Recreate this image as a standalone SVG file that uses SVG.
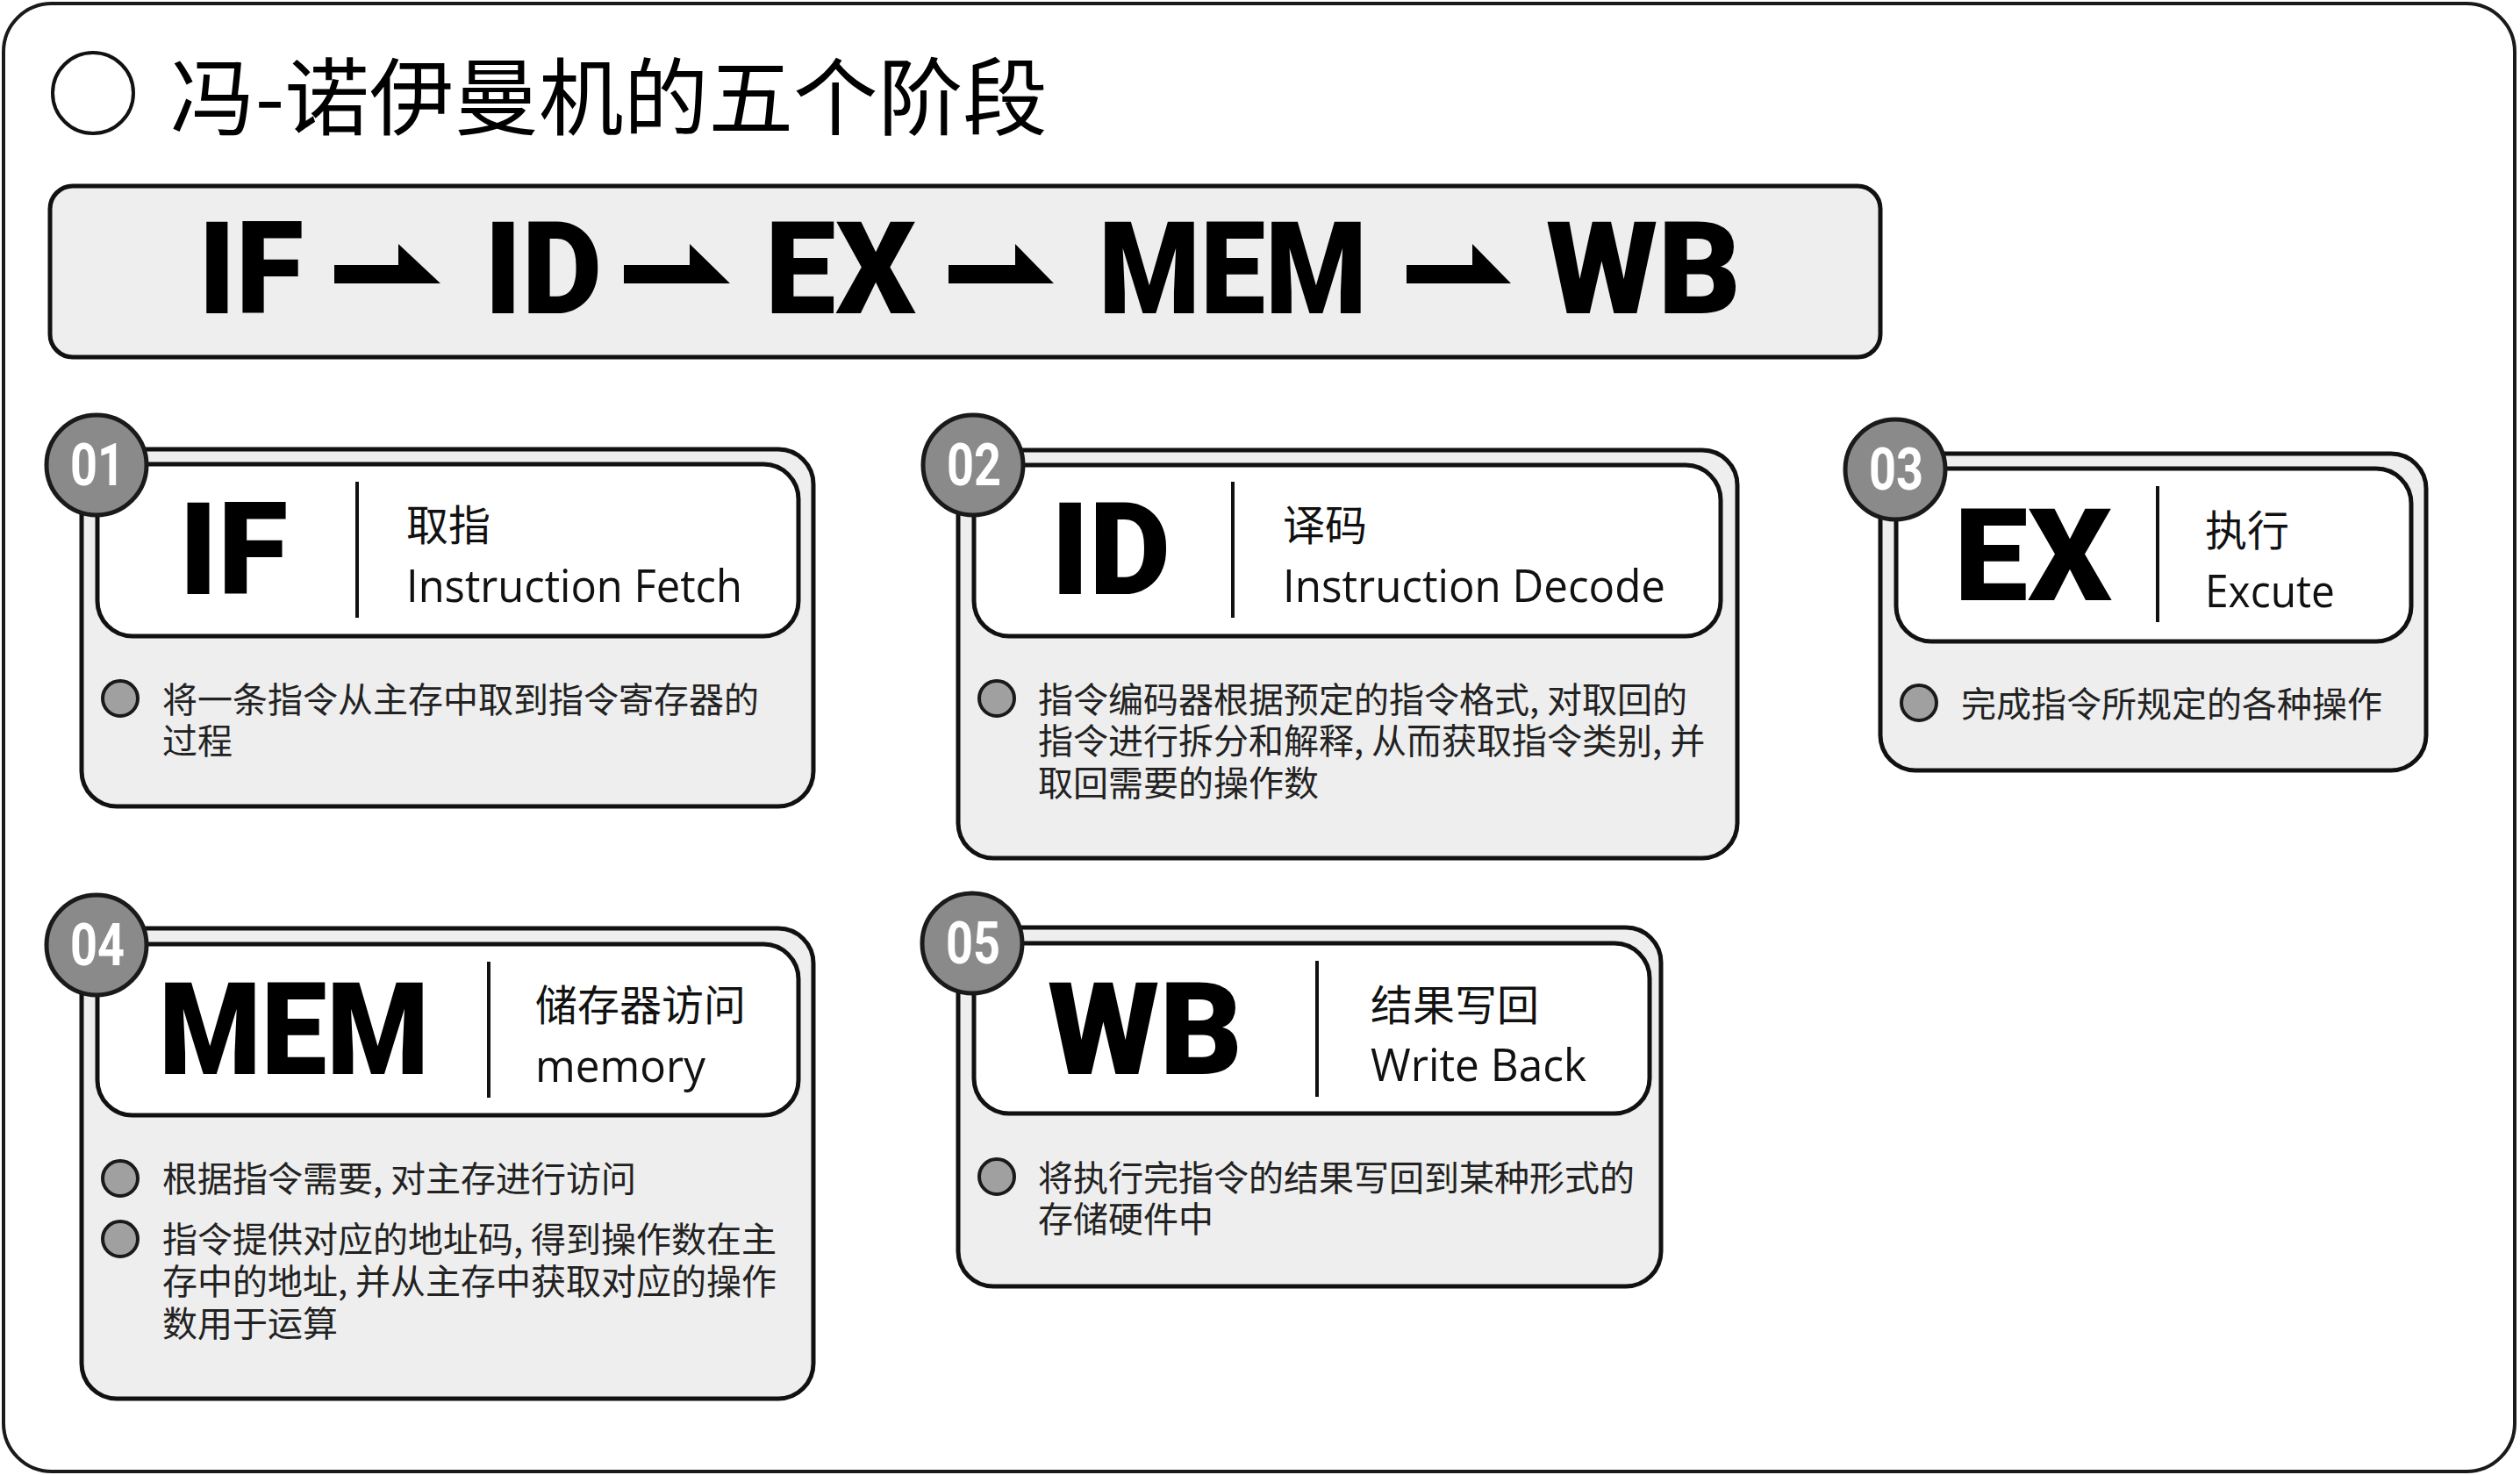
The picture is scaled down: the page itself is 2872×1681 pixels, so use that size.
<svg xmlns="http://www.w3.org/2000/svg" width="2872" height="1681" viewBox="0 0 2872 1681">
<style>
.frame{fill:#fff;stroke:#1a1a1a;stroke-width:4}
.outer{fill:#eeeeee;stroke:#111;stroke-width:5}
.inner{fill:#fff;stroke:#111;stroke-width:5}
.badge{fill:#8a8a8a;stroke:#1a1a1a;stroke-width:5}
.num{font-family:Roboto,"Liberation Sans",sans-serif;font-weight:700;font-size:66px;fill:#fff;text-anchor:middle}
.big{font-family:Roboto,"Liberation Sans",sans-serif;font-weight:900;font-size:146px;fill:#000}
.div{stroke:#111;stroke-width:4}
.cn{font-family:"Noto Sans CJK SC",sans-serif;font-size:48px;fill:#111}
.en{font-family:"Open Sans","Noto Sans",sans-serif;font-size:52px;fill:#111}
.desc{font-family:"Noto Sans CJK SC",sans-serif;font-size:40px;fill:#222}
.dot{fill:#a0a0a0;stroke:#1a1a1a;stroke-width:4}
.arrow{fill:#000}
</style>
<rect class="frame" x="4" y="4" width="2862" height="1673" rx="55"/>
<g id="title">
<circle cx="106" cy="106" r="46" fill="#fff" stroke="#111" stroke-width="4"/>
<text x="194" y="146" font-family="'Noto Sans CJK SC',sans-serif" font-size="96" fill="#000" textLength="1000" lengthAdjust="spacingAndGlyphs">冯-诺伊曼机的五个阶段</text>
</g>
<g id="pipeline">
<rect x="57" y="212" width="2086" height="195" rx="26" fill="#eeeeee" stroke="#111" stroke-width="5"/>
<text class="big" x="226" y="357" textLength="120" lengthAdjust="spacingAndGlyphs">IF</text>
<text class="big" x="552" y="357" textLength="134" lengthAdjust="spacingAndGlyphs">ID</text>
<text class="big" x="872" y="357" textLength="172" lengthAdjust="spacingAndGlyphs">EX</text>
<text class="big" x="1252" y="357" textLength="306" lengthAdjust="spacingAndGlyphs">MEM</text>
<text class="big" x="1762" y="357" textLength="222" lengthAdjust="spacingAndGlyphs">WB</text>
</g>
<g id="connectors">
<polygon class="arrow" points="381,302 454,302 454,278 502,323 381,323"/>
<polygon class="arrow" points="711,302 786,302 786,278 832,323 711,323"/>
<polygon class="arrow" points="1081,302 1157,302 1157,278 1201,323 1081,323"/>
<polygon class="arrow" points="1603,302 1678,302 1678,278 1722,323 1603,323"/>
</g>
<g id="stage-if">
<rect class="outer" x="93" y="512" width="834" height="407" rx="40"/>
<rect class="inner" x="111" y="529" width="799" height="196" rx="40"/>
<circle class="badge" cx="110" cy="530" r="57"/>
<text class="num" x="111" y="553" textLength="62" lengthAdjust="spacingAndGlyphs">01</text>
<text class="big" x="204" y="677" textLength="124" lengthAdjust="spacingAndGlyphs">IF</text>
<line class="div" x1="407" y1="549" x2="407" y2="704"/>
<text class="cn" x="463" y="616">取指</text>
<text class="en" x="463" y="686" textLength="383" lengthAdjust="spacingAndGlyphs">Instruction Fetch</text>
<circle class="dot" cx="137" cy="796" r="20"/>
<text class="desc" x="185" y="812">将一条指令从主存中取到指令寄存器的<tspan x="185" dy="47">过程</tspan></text>
</g>
<g id="stage-id">
<rect class="outer" x="1092" y="513" width="888" height="465" rx="40"/>
<rect class="inner" x="1110" y="530" width="851" height="195" rx="40"/>
<circle class="badge" cx="1109" cy="530" r="57"/>
<text class="num" x="1110" y="553" textLength="62" lengthAdjust="spacingAndGlyphs">02</text>
<text class="big" x="1198" y="677" textLength="136" lengthAdjust="spacingAndGlyphs">ID</text>
<line class="div" x1="1405" y1="549" x2="1405" y2="704"/>
<text class="cn" x="1462" y="616">译码</text>
<text class="en" x="1462" y="686" textLength="436" lengthAdjust="spacingAndGlyphs">Instruction Decode</text>
<circle class="dot" cx="1136" cy="796" r="20"/>
<text class="desc" x="1183" y="812">指令编码器根据预定的指令格式, 对取回的<tspan x="1183" dy="47">指令进行拆分和解释, 从而获取指令类别, 并</tspan><tspan x="1183" dy="48">取回需要的操作数</tspan></text>
</g>
<g id="stage-ex">
<rect class="outer" x="2143" y="517" width="622" height="361" rx="40"/>
<rect class="inner" x="2161" y="534" width="587" height="197" rx="40"/>
<circle class="badge" cx="2160" cy="535" r="57"/>
<text class="num" x="2161" y="558" textLength="62" lengthAdjust="spacingAndGlyphs">03</text>
<text class="big" x="2227" y="684" textLength="180" lengthAdjust="spacingAndGlyphs">EX</text>
<line class="div" x1="2459" y1="554" x2="2459" y2="709"/>
<text class="cn" x="2513" y="622">执行</text>
<text class="en" x="2513" y="692" textLength="148" lengthAdjust="spacingAndGlyphs">Excute</text>
<circle class="dot" cx="2187" cy="801" r="20"/>
<text class="desc" x="2235" y="817">完成指令所规定的各种操作</text>
</g>
<g id="stage-mem">
<rect class="outer" x="93" y="1058" width="834" height="536" rx="40"/>
<rect class="inner" x="111" y="1076" width="799" height="195" rx="40"/>
<circle class="badge" cx="110" cy="1077" r="57"/>
<text class="num" x="111" y="1100" textLength="62" lengthAdjust="spacingAndGlyphs">04</text>
<text class="big" x="181" y="1224" textLength="308" lengthAdjust="spacingAndGlyphs">MEM</text>
<line class="div" x1="557" y1="1096" x2="557" y2="1251"/>
<text class="cn" x="610" y="1163">储存器访问</text>
<text class="en" x="610" y="1233" textLength="194" lengthAdjust="spacingAndGlyphs">memory</text>
<circle class="dot" cx="137" cy="1343" r="20"/>
<circle class="dot" cx="137" cy="1412" r="20"/>
<text class="desc" x="185" y="1358">根据指令需要, 对主存进行访问<tspan x="185" dy="69">指令提供对应的地址码, 得到操作数在主</tspan><tspan x="185" dy="48">存中的地址, 并从主存中获取对应的操作</tspan><tspan x="185" dy="48">数用于运算</tspan></text>
</g>
<g id="stage-wb">
<rect class="outer" x="1092" y="1057" width="801" height="409" rx="40"/>
<rect class="inner" x="1110" y="1075" width="770" height="194" rx="40"/>
<circle class="badge" cx="1108" cy="1075" r="57"/>
<text class="num" x="1109" y="1098" textLength="62" lengthAdjust="spacingAndGlyphs">05</text>
<text class="big" x="1194" y="1224" textLength="222" lengthAdjust="spacingAndGlyphs">WB</text>
<line class="div" x1="1501" y1="1095" x2="1501" y2="1250"/>
<text class="cn" x="1562" y="1163">结果写回</text>
<text class="en" x="1562" y="1232" textLength="246" lengthAdjust="spacingAndGlyphs">Write Back</text>
<circle class="dot" cx="1136" cy="1341" r="20"/>
<text class="desc" x="1183" y="1357">将执行完指令的结果写回到某种形式的<tspan x="1183" dy="47">存储硬件中</tspan></text>
</g>
</svg>
